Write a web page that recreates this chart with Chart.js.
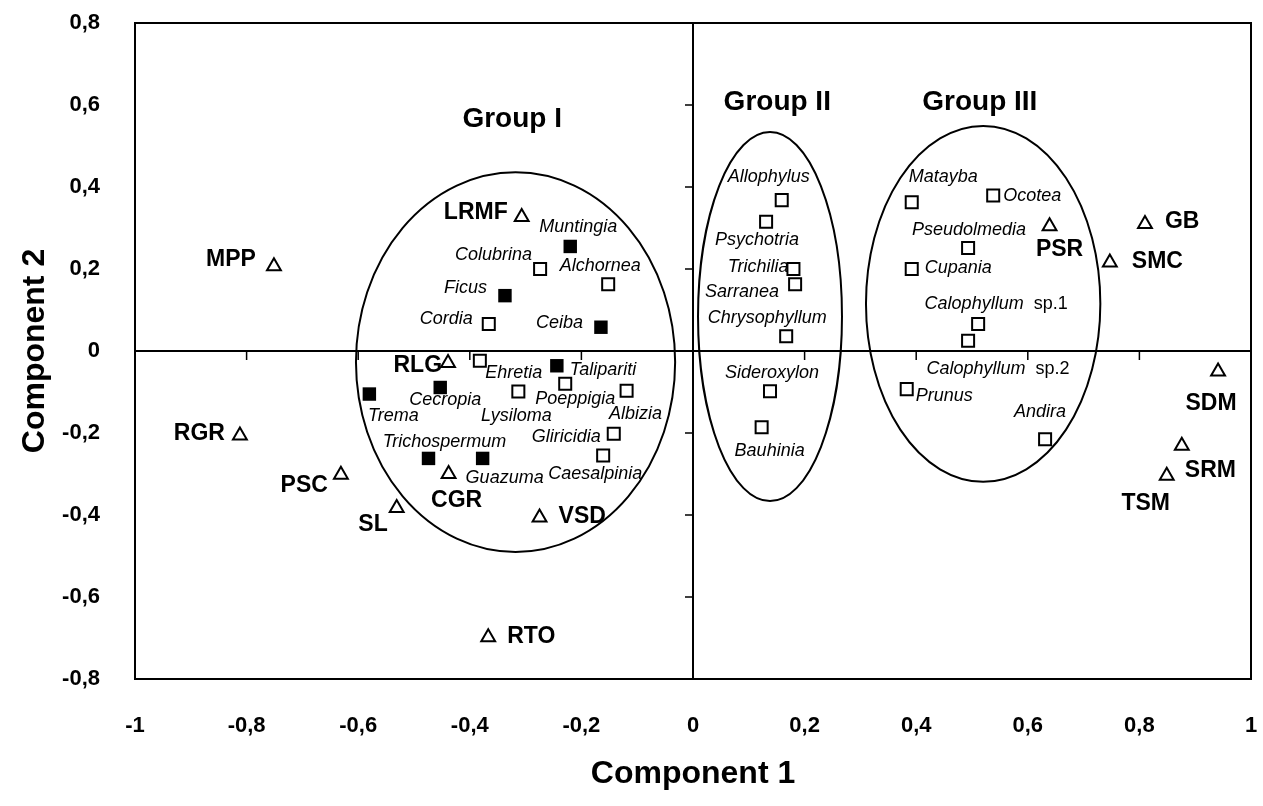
<!DOCTYPE html>
<html>
<head>
<meta charset="utf-8">
<script src="https://cdn.jsdelivr.net/npm/chart.js@4"></script>
<style>
  body { margin:0; background:#fff; }
  #wrap { width:1263px; height:806px; }
</style>
</head>
<body>
<div id="wrap"><canvas id="pca" width="1263" height="806"></canvas></div>
<script>
// sites (open triangles)
const siteLabels = ['MPP','LRMF','RLG','RGR','PSC','SL','CGR','VSD','RTO','PSR','GB','SMC','SDM','SRM','TSM'];
const siteComp1  = [-0.751,-0.307,-0.439,-0.812,-0.631,-0.531,-0.438,-0.275,-0.367,0.639,0.810,0.747,0.941,0.876,0.849];
const siteComp2  = [0.207,0.327,-0.029,-0.206,-0.302,-0.383,-0.300,-0.406,-0.698,0.304,0.310,0.216,-0.050,-0.231,-0.304];

// species (open squares)
const speciesLabels = ['Colubrina','Alchornea','Cordia','Ehretia','Lysiloma','Poeppigia','Albizia','Gliricidia','Caesalpinia',
  'Allophylus','Psychotria','Trichilia','Sarranea','Chrysophyllum','Sideroxylon','Bauhinia',
  'Matayba','Ocotea','Pseudolmedia','Cupania','Calophyllum|sp.1','Calophyllum|sp.2','Prunus','Andira'];
const speciesComp1 = [-0.274,-0.152,-0.366,-0.382,-0.313,-0.229,-0.119,-0.142,-0.161,
  0.159,0.131,0.180,0.183,0.167,0.138,0.123,
  0.392,0.538,0.493,0.392,0.511,0.493,0.383,0.631];
const speciesComp2 = [0.200,0.163,0.066,-0.024,-0.099,-0.080,-0.097,-0.202,-0.255,
  0.368,0.315,0.200,0.163,0.036,-0.098,-0.186,
  0.363,0.379,0.251,0.200,0.066,0.025,-0.093,-0.215];

// pioneer species (filled squares)
const pioneerLabels = ['Muntingia','Ficus','Ceiba','Talipariti','Trema','Cecropia','Trichospermum','Guazuma'];
const pioneerComp1  = [-0.220,-0.337,-0.165,-0.244,-0.580,-0.453,-0.474,-0.377];
const pioneerComp2  = [0.255,0.135,0.058,-0.036,-0.105,-0.089,-0.262,-0.262];

// groups (ellipses in component units)
const groupNames = ['Group I','Group II','Group III'];
const groupCx = [-0.318,0.138,0.520];
const groupCy = [-0.027,0.084,0.115];
const groupRx = [0.286,0.129,0.210];
const groupRy = [0.463,0.450,0.434];
const groupLabelY = [0.566,0.607,0.607];
const groupLabelX = [-0.324,0.151,0.514];

const xTicks = [-1,-0.8,-0.6,-0.4,-0.2,0,0.2,0.4,0.6,0.8,1];
const yTicks = [-0.8,-0.6,-0.4,-0.2,0,0.2,0.4,0.6,0.8];

// label placement: [align, dx, dy] in pixels from the marker
const place = {
  MPP:['right',-18,-6], LRMF:['right',-14,-4], RLG:['right',-6,3], RGR:['right',-15,-2], PSC:['right',-13,11],
  SL:['right',-9,17], CGR:['center',8,27], VSD:['left',19,-1], RTO:['left',19,-1], PSR:['center',10,23],
  GB:['left',20,-2], SMC:['left',22,-1], SDM:['center',-7,32], SRM:['left',3,25], TSM:['center',-21,28],
  Colubrina:['right',-8,-14], Alchornea:['center',-8,-18], Cordia:['right',-16,-5], Ehretia:['center',34,12],
  Lysiloma:['center',-2,24], Poeppigia:['center',10,15], Albizia:['center',9,23], Gliricidia:['right',-13,3],
  Caesalpinia:['center',-8,18], Allophylus:['center',-13,-23], Psychotria:['center',-9,18], Trichilia:['right',-5,-2],
  Sarranea:['right',-16,8], Chrysophyllum:['center',-19,-18], Sideroxylon:['center',2,-18], Bauhinia:['center',8,24],
  Matayba:['left',-3,-25], Ocotea:['left',10,0], Pseudolmedia:['center',1,-18], Cupania:['left',13,-1],
  'Calophyllum|sp.1':['center',18,-20], 'Calophyllum|sp.2':['center',30,28], Prunus:['left',9,7], Andira:['center',-5,-27],
  Muntingia:['center',8,-19], Ficus:['right',-18,-8], Ceiba:['right',-18,-4], Talipariti:['left',13,4],
  Trema:['center',24,22], Cecropia:['center',5,13], Trichospermum:['center',16,-16], Guazuma:['center',22,20]
};

function pts(xs, ys, names){ return xs.map((x,i)=>({x, y:ys[i], name:names[i]})); }
const fmt = v => String(Math.round(v*10)/10).replace('.', ',');
const FONT = '"Liberation Sans", Arial, sans-serif';

const framePlugin = {
  id:'frame',
  beforeDatasetsDraw(chart){
    const {ctx, chartArea:a, scales:{x, y}} = chart;
    ctx.save();
    ctx.strokeStyle = '#000';
    ctx.lineWidth = 2;
    ctx.strokeRect(a.left, a.top, a.right-a.left, a.bottom-a.top);
    const x0 = x.getPixelForValue(0), y0 = y.getPixelForValue(0);
    ctx.beginPath();
    ctx.moveTo(x0, a.top); ctx.lineTo(x0, a.bottom);
    ctx.moveTo(a.left, y0); ctx.lineTo(a.right, y0);
    ctx.stroke();
    ctx.lineWidth = 1.5;
    ctx.beginPath();
    yTicks.forEach(v=>{ const p = y.getPixelForValue(v); ctx.moveTo(x0-8, p); ctx.lineTo(x0, p); });
    xTicks.forEach(v=>{ const p = x.getPixelForValue(v); ctx.moveTo(p, y0); ctx.lineTo(p, y0+9); });
    ctx.stroke();
    // group ellipses
    ctx.lineWidth = 2;
    groupNames.forEach((g,i)=>{
      const cx = x.getPixelForValue(groupCx[i]), cy = y.getPixelForValue(groupCy[i]);
      const rx = x.getPixelForValue(groupCx[i]+groupRx[i]) - cx;
      const ry = cy - y.getPixelForValue(groupCy[i]+groupRy[i]);
      ctx.beginPath();
      ctx.ellipse(cx, cy, rx, ry, 0, 0, Math.PI*2);
      ctx.stroke();
    });
    ctx.fillStyle = '#000';
    ctx.font = 'bold 28px ' + FONT;
    ctx.textAlign = 'center';
    ctx.textBaseline = 'middle';
    groupNames.forEach((g,i)=>{
      ctx.fillText(g, x.getPixelForValue(groupLabelX[i]), y.getPixelForValue(groupLabelY[i]));
    });
    ctx.restore();
  }
};

const labelPlugin = {
  id:'pointLabels',
  afterDatasetsDraw(chart){
    const ctx = chart.ctx;
    ctx.save();
    ctx.fillStyle = '#000';
    ctx.textBaseline = 'middle';
    chart.data.datasets.forEach((ds, di)=>{
      const meta = chart.getDatasetMeta(di);
      meta.data.forEach((el, i)=>{
        const name = ds.data[i].name;
        const [align, dx, dy] = place[name] || ['left', 10, 0];
        const parts = name.split('|');
        const tx = el.x + dx, ty = el.y + dy;
        if (ds.labelStyle === 'site') {
          ctx.font = 'bold 23px ' + FONT;
          ctx.textAlign = align;
          ctx.fillText(parts[0], tx, ty);
        } else {
          const ital = 'italic 18px ' + FONT;
          const rom = '18px ' + FONT;
          ctx.font = ital;
          const w1 = ctx.measureText(parts[0]).width;
          let w2 = 0;
          const suffix = parts[1] ? '  ' + parts[1] : '';
          if (suffix) { ctx.font = rom; w2 = ctx.measureText(suffix).width; }
          const w = w1 + w2;
          let left = align === 'left' ? tx : align === 'right' ? tx - w : tx - w/2;
          ctx.textAlign = 'left';
          ctx.font = ital;
          ctx.fillText(parts[0], left, ty);
          if (suffix) { ctx.font = rom; ctx.fillText(suffix, left + w1, ty); }
        }
      });
    });
    ctx.restore();
  }
};

new Chart(document.getElementById('pca'), {
  type:'scatter',
  data:{
    datasets:[
      { label:'Species', labelStyle:'species', data:pts(speciesComp1, speciesComp2, speciesLabels),
        pointStyle:'rect', radius:8.5, backgroundColor:'#fff', borderColor:'#000', borderWidth:2 },
      { label:'Pioneer species', labelStyle:'species', data:pts(pioneerComp1, pioneerComp2, pioneerLabels),
        pointStyle:'rect', radius:9.5, backgroundColor:'#000', borderColor:'#000', borderWidth:0 },
      { label:'Sites', labelStyle:'site', data:pts(siteComp1, siteComp2, siteLabels),
        pointStyle:'triangle', radius:8, backgroundColor:'#fff', borderColor:'#000', borderWidth:2 }
    ]
  },
  options:{
    responsive:false,
    animation:false,
    devicePixelRatio:1,
    layout:{ padding:{ top:23, right:12, bottom:0, left:0 } },
    plugins:{ legend:{display:false}, tooltip:{enabled:false} },
    scales:{
      x:{
        type:'linear', min:-1, max:1,
        afterBuildTicks: s => { s.ticks = xTicks.map(v=>({value:v})); },
        afterFit: s => { s.height = 127; s.paddingLeft = 0; s.paddingRight = 0; },
        grid:{ display:false, drawTicks:false },
        border:{ display:false },
        ticks:{ padding:34, color:'#000', font:{ family:FONT, size:22, weight:'bold' }, callback: v => fmt(v), maxRotation:0 },
        title:{ display:true, text:'Component 1', color:'#000', padding:{top:0, bottom:13},
          font:{ family:FONT, size:32, weight:'bold' } }
      },
      y:{
        type:'linear', min:-0.8, max:0.8,
        afterBuildTicks: s => { s.ticks = yTicks.map(v=>({value:v})); },
        afterFit: s => { s.width = 135; s.paddingTop = 0; s.paddingBottom = 0; },
        grid:{ display:false, drawTicks:false },
        border:{ display:false },
        ticks:{ padding:35, color:'#000', font:{ family:FONT, size:22, weight:'bold' }, callback: v => fmt(v) },
        title:{ display:true, text:'Component 2', color:'#000', padding:{top:16, bottom:0},
          font:{ family:FONT, size:32, weight:'bold' } }
      }
    }
  },
  plugins:[framePlugin, labelPlugin]
});
</script>
</body>
</html>
